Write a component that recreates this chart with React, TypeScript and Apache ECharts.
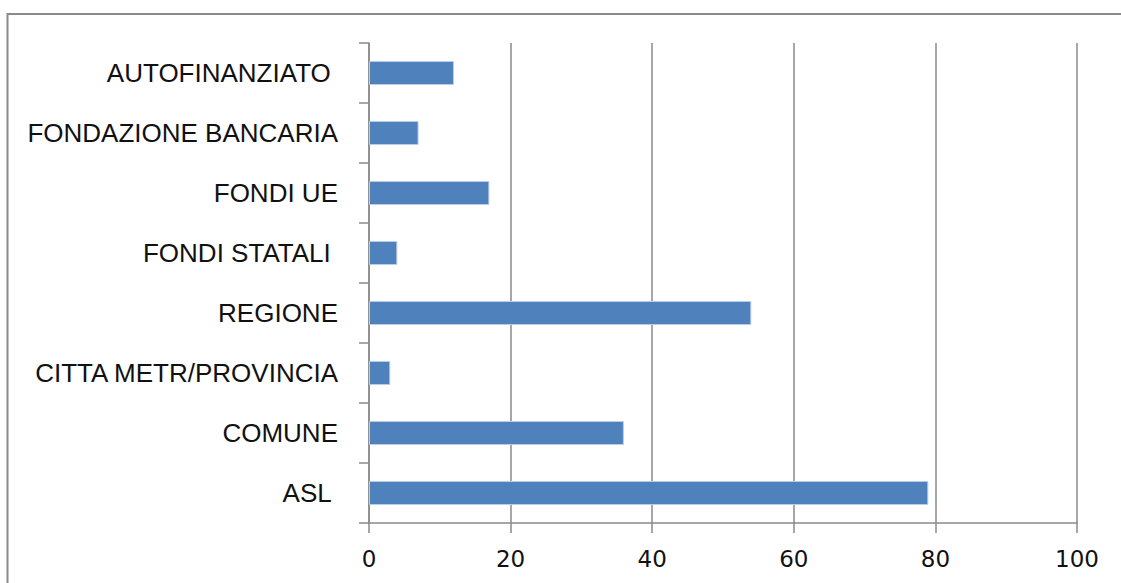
import React, { useEffect, useRef } from "react";
import * as echarts from "echarts";

// Funding sources, bottom to top as drawn on the category axis
const categories = [
  "ASL ",
  "COMUNE",
  "CITTA METR/PROVINCIA",
  "REGIONE",
  "FONDI STATALI ",
  "FONDI UE",
  "FONDAZIONE BANCARIA",
  "AUTOFINANZIATO ",
];
const values = [79, 36, 3, 54, 4, 17, 7, 12];
const xTicks = { min: 0, max: 100, interval: 20 };

const GRAY = "#8a8a8a";
const TEXT = "#111111";

export default function App() {
  const ref = useRef<HTMLDivElement>(null);

  useEffect(() => {
    if (!ref.current) return;
    const chart = echarts.init(ref.current, null, { renderer: "svg" });
    chart.setOption({
      animation: false,
      backgroundColor: "#ffffff",
      graphic: [
        {
          type: "rect",
          shape: { x: 7.5, y: 14, width: 1200, height: 700 },
          style: { fill: "none", stroke: GRAY, lineWidth: 2 },
          silent: true,
          z: -1,
        },
      ],
      grid: { left: 369, right: 44, top: 43, bottom: 60, containLabel: false },
      xAxis: {
        type: "value",
        min: xTicks.min,
        max: xTicks.max,
        interval: xTicks.interval,
        axisLine: { show: true, lineStyle: { color: GRAY, width: 1.5 } },
        axisTick: { show: true, length: 10, lineStyle: { color: GRAY, width: 1.5 } },
        splitLine: { show: true, lineStyle: { color: GRAY, width: 1.5 } },
        axisLabel: {
          color: TEXT,
          fontSize: 23,
          fontFamily: "'DejaVu Sans', sans-serif",
          margin: 24,
        },
      },
      yAxis: {
        type: "category",
        data: categories,
        boundaryGap: true,
        axisLine: { show: true, lineStyle: { color: GRAY, width: 1.5 } },
        axisTick: { show: true, length: 10, alignWithLabel: false, lineStyle: { color: GRAY, width: 1.5 } },
        splitLine: { show: false },
        axisLabel: {
          color: TEXT,
          fontSize: 26,
          fontFamily: "'Liberation Sans', Arial, sans-serif",
          margin: 31,
        },
      },
      series: [
        {
          type: "bar",
          data: values,
          barWidth: 24,
          itemStyle: { color: "#4f81bd", borderColor: "#b9cde6", borderWidth: 1 },
        },
      ],
    });
    return () => chart.dispose();
  }, []);

  return (
    <div
      ref={ref}
      style={{ position: "fixed", left: 0, top: 0, width: 1121, height: 583 }}
    />
  );
}
